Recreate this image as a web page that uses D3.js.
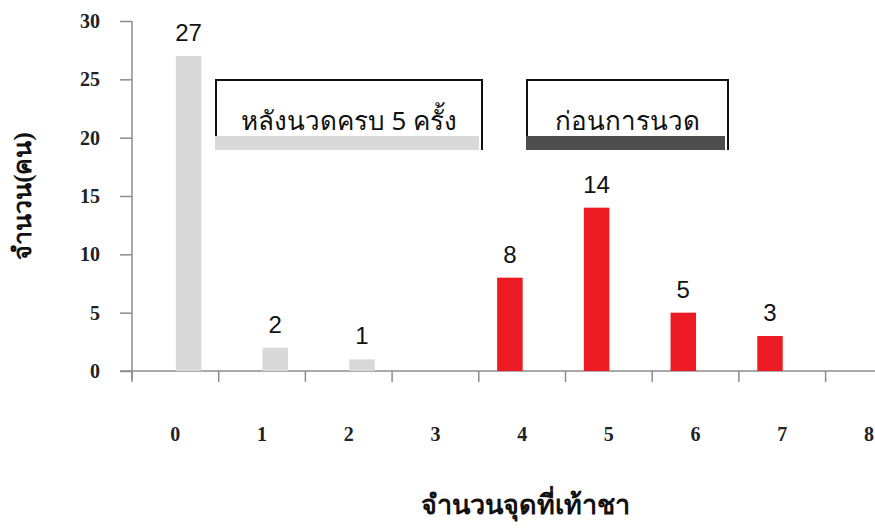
<!DOCTYPE html>
<html>
<head>
<meta charset="utf-8">
<script src="https://cdn.jsdelivr.net/npm/d3@7"></script>
<style>
  body { margin: 0; background: #fff; }
  svg { display: block; }
  .axis path, .axis line { stroke: #8c8c8c; stroke-width: 1.5; }
  .tick text { font-family: "Liberation Serif", serif; font-weight: bold; font-size: 20px; fill: #222; }
  .vlabel { font-family: "Liberation Sans", Arial, sans-serif; font-size: 24px; fill: #111; text-anchor: middle; }
  .title { font-family: "Liberation Serif", serif; font-weight: bold; font-size: 27px; fill: #111; }
  .legend text { font-family: "Noto Sans", "DejaVu Sans", sans-serif; font-size: 26px; fill: #111; }
</style>
</head>
<body>
<svg id="chart" width="875" height="529"></svg>
<script>
// numbers of numb spots on the foot (x) vs number of people (y)
const categories = ['0', '1', '2', '3', '4', '5', '6', '7', '8'];
const afterValues = [27, 2, 1, 0, 0, 0, 0, 0, 0];   // หลังนวดครบ 5 ครั้ง
const beforeValues = [0, 0, 0, 0, 8, 14, 5, 3, 0];  // ก่อนการนวด
const yTicks = [0, 5, 10, 15, 20, 25, 30];

const series = [
  { key: 'before', name: 'ก่อนการนวด', values: beforeValues, color: '#ed1c24', legendColor: '#4d4d4d' },
  { key: 'after', name: 'หลังนวดครบ 5 ครั้ง', values: afterValues, color: '#d9d9d9', legendColor: '#d9d9d9' }
];

const svg = d3.select('#chart');
const plotLeft = 132, plotBottom = 371, plotTop = 21;

const x = d3.scaleBand().domain(categories).range([plotLeft, plotLeft + 86.7 * categories.length]);
const x1 = d3.scaleBand().domain(series.map((s) => s.key)).range([-25, 26]);
const y = d3.scaleLinear().domain([0, 30]).range([plotBottom, plotTop]);

// Y axis
const yAxis = svg.append('g')
  .attr('class', 'axis')
  .attr('transform', `translate(${plotLeft},0)`)
  .call(d3.axisLeft(y).tickValues(yTicks).tickSize(12).tickPadding(20));
yAxis.select('.domain').attr('d', `M0,${plotTop}V${plotBottom + 8}`);

// X axis line + boundary ticks
const xg = svg.append('g').attr('class', 'axis');
xg.append('line')
  .attr('x1', plotLeft - 12).attr('x2', 875)
  .attr('y1', plotBottom).attr('y2', plotBottom);
xg.selectAll('line.bt')
  .data(categories)
  .join('line')
  .attr('class', 'bt')
  .attr('x1', (d) => x(d)).attr('x2', (d) => x(d))
  .attr('y1', plotBottom).attr('y2', plotBottom + 11);
const xAxis = svg.append('g')
  .attr('class', 'axis')
  .attr('transform', `translate(0,${plotBottom})`)
  .call(d3.axisBottom(x).tickSize(0).tickPadding(56));
xAxis.select('.domain').remove();

// Bars
const barData = (s) => s.values
  .map((v, i) => ({ key: s.key, cat: categories[i], v }))
  .filter((d) => d.v > 0);

const groups = svg.append('g')
  .selectAll('g')
  .data(series)
  .join('g')
  .attr('fill', (s) => s.color);

groups.selectAll('rect')
  .data(barData)
  .join('rect')
  .attr('x', (d) => x(d.cat) + x.bandwidth() / 2 + x1(d.key))
  .attr('width', x1.bandwidth())
  .attr('y', (d) => y(d.v))
  .attr('height', (d) => y(0) - y(d.v));

// Value labels
svg.append('g')
  .selectAll('g')
  .data(series)
  .join('g')
  .selectAll('text')
  .data(barData)
  .join('text')
  .attr('class', 'vlabel')
  .attr('x', (d) => x(d.cat) + x.bandwidth() / 2 + x1(d.key) + x1.bandwidth() / 2)
  .attr('y', (d) => y(d.v) - 15)
  .text((d) => d.v);

// Legend boxes
const legendPos = [
  { key: 'after', x: 215, w: 268 },
  { key: 'before', x: 526, w: 203 }
];
const legend = svg.append('g').attr('class', 'legend')
  .selectAll('g')
  .data(legendPos)
  .join('g')
  .attr('transform', (d) => `translate(${d.x},79)`);
legend.append('path')
  .attr('d', (d) => `M1,71V1H${d.w - 1}V71`)
  .attr('fill', 'none')
  .attr('stroke', '#111')
  .attr('stroke-width', 2);
legend.append('rect')
  .attr('x', 0).attr('y', 57)
  .attr('width', (d) => d.w - 4).attr('height', 14)
  .attr('fill', (d) => series.find((s) => s.key === d.key).legendColor);
legend.append('text')
  .attr('x', (d) => d.w / 2).attr('y', 51)
  .attr('text-anchor', 'middle')
  .text((d) => series.find((s) => s.key === d.key).name);

// Titles
svg.append('text')
  .attr('class', 'title')
  .attr('transform', 'translate(31,196) rotate(-90)')
  .attr('text-anchor', 'middle')
  .style('font-size', '25px')
  .text('จำนวน(คน)');
svg.append('text')
  .attr('class', 'title')
  .attr('x', 525).attr('y', 514)
  .attr('text-anchor', 'middle')
  .text('จำนวนจุดที่เท้าชา');
</script>
</body>
</html>
